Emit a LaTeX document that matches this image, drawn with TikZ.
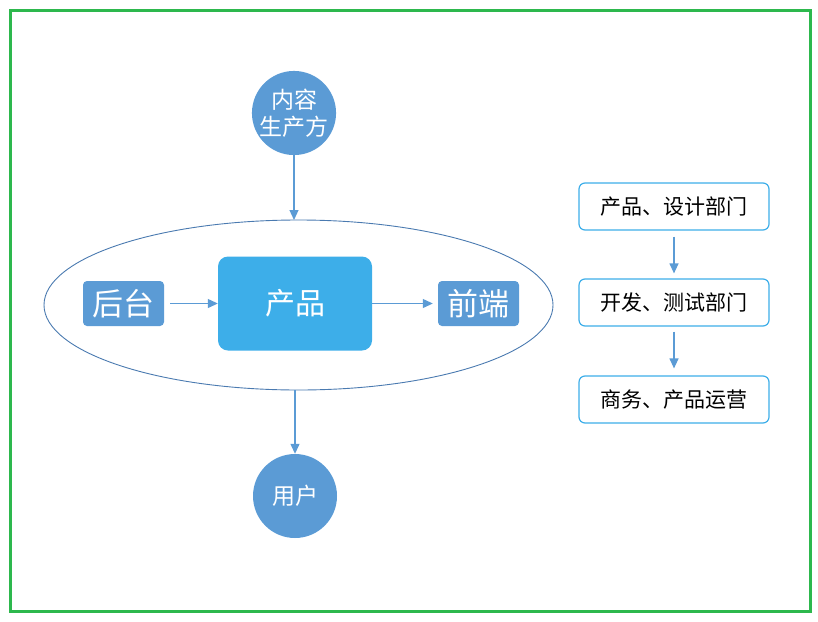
\documentclass[tikz,border=0pt]{standalone}
\usepackage{fontspec}
\setmainfont{Noto Sans CJK SC}
\usetikzlibrary{shapes.geometric,arrows.meta}
\definecolor{frame}{HTML}{2DB84D}
\definecolor{midblue}{HTML}{5B9BD5}
\definecolor{brightblue}{HTML}{3DAEE9}
\definecolor{ellblue}{HTML}{4A7AB0}
\tikzset{
  circ/.style={circle,fill=midblue,draw=none,minimum size=84pt,inner sep=0pt,text=white,align=center,font=\fontsize{23}{27}\selectfont},
  darkbox/.style={rectangle,rounded corners=4pt,fill=midblue,minimum width=81pt,minimum height=45pt,inner sep=0pt,text=white,font=\fontsize{31}{34}\selectfont},
  prodbox/.style={rectangle,rounded corners=10pt,fill=brightblue,minimum width=154pt,minimum height=94pt,inner sep=0pt,text=white,font=\fontsize{30}{34}\selectfont},
  deptbox/.style={rectangle,rounded corners=6pt,draw=brightblue,line width=1.2pt,fill=white,minimum width=190pt,minimum height=47pt,inner sep=0pt,font=\fontsize{21}{24}\selectfont},
  conn/.style={draw=midblue,line width=1.2pt,-{Triangle[length=10pt,width=9pt]}},
}
\begin{document}
\begin{tikzpicture}[x=1pt,y=-1pt]
\useasboundingbox (0,0) rectangle (818,621);
\draw[frame,line width=3pt] (10,10) rectangle (810,611);
\node[ellipse,draw=ellblue,line width=0.9pt,minimum width=509pt,minimum height=170pt,inner sep=0pt] (ell) at (298.5,305) {};
\node[circ] (src) at (294,113) {内容\\生产方};
\node[circ] (user) at (295,496) {用户};
\node[darkbox] (back) at (123.5,303.5) {后台};
\node[prodbox] (prod) at (295,303.5) {产品};
\node[darkbox] (front) at (478.5,303.5) {前端};
\node[deptbox] (d1) at (674,206.5) {产品、设计部门};
\node[deptbox] (d2) at (674,302.5) {开发、测试部门};
\node[deptbox] (d3) at (674,399.5) {商务、产品运营};
\coordinate (etop) at (294,220);
\coordinate (ebot) at (295,390);
\draw[conn] (src.south) -- (etop);
\draw[conn] (ebot) -- (user.north);
\draw[conn] ([xshift=6pt]back.east) -- (prod.west);
\draw[conn] (prod.east) -- ([xshift=-5pt]front.west);
\draw[conn] ([yshift=-6pt]d1.south) -- ([yshift=5pt]d2.north);
\draw[conn] ([yshift=-5pt]d2.south) -- ([yshift=7pt]d3.north);
\end{tikzpicture}
\end{document}
